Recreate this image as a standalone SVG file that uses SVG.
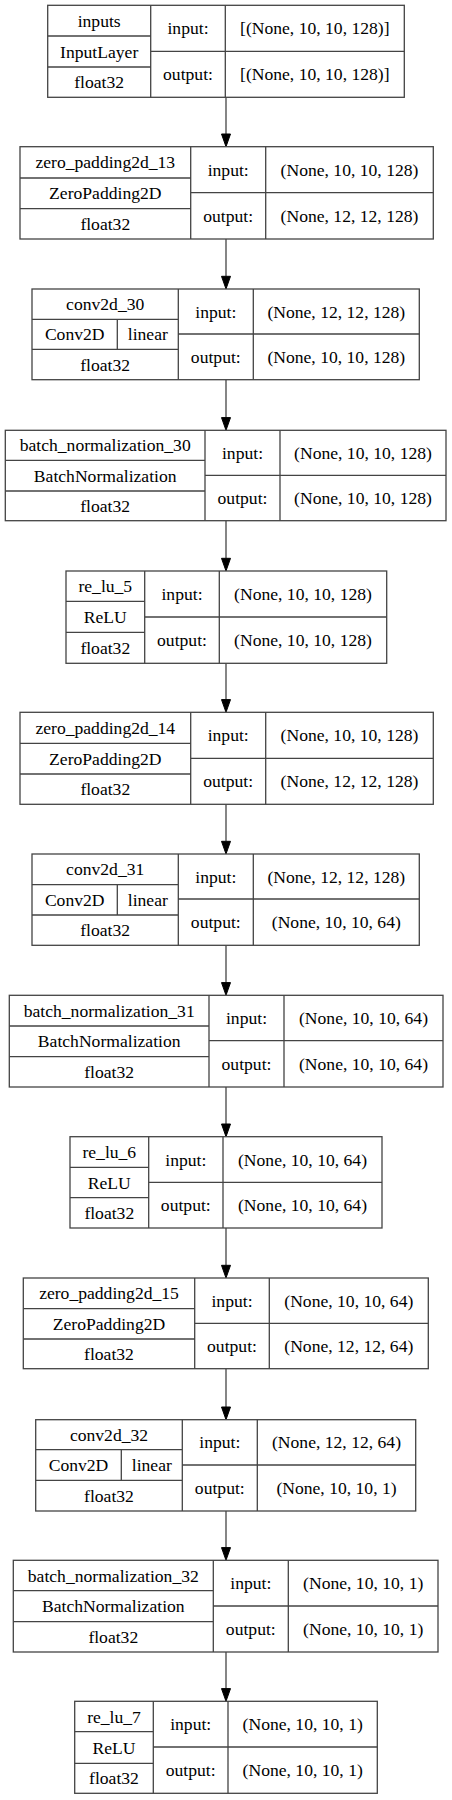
<svg xmlns="http://www.w3.org/2000/svg" width="452" height="1800" viewBox="0 0 452 1800" font-family="'Liberation Serif', 'Times New Roman', 'DejaVu Serif', serif">
<style>
.b{fill:#fff;stroke:#444;stroke-width:1.3}
.l{stroke:#444;stroke-width:1.3;fill:none}
text{font-family:'Liberation Serif','Times New Roman','DejaVu Serif',serif;font-size:17.6px;fill:#000;text-anchor:middle}
.e{stroke:#444;stroke-width:1.3;fill:none}
.h{fill:#000;stroke:#000;stroke-width:1}
</style>
<rect width="452" height="1800" fill="#fff"/>
<g id="connectors">
<line class="e" x1="226" y1="97.3" x2="226" y2="134"/><polygon class="h" points="221.5,134 230.5,134 226,146.7"/>
<line class="e" x1="226" y1="239" x2="226" y2="276.3"/><polygon class="h" points="221.5,276.3 230.5,276.3 226,289"/>
<line class="e" x1="226" y1="379.7" x2="226" y2="417.6"/><polygon class="h" points="221.5,417.6 230.5,417.6 226,430.3"/>
<line class="e" x1="226" y1="520.7" x2="226" y2="558.3"/><polygon class="h" points="221.5,558.3 230.5,558.3 226,571"/>
<line class="e" x1="226" y1="663.3" x2="226" y2="699.6"/><polygon class="h" points="221.5,699.6 230.5,699.6 226,712.3"/>
<line class="e" x1="226" y1="804.3" x2="226" y2="841.3"/><polygon class="h" points="221.5,841.3 230.5,841.3 226,854"/>
<line class="e" x1="226" y1="945.3" x2="226" y2="982.6"/><polygon class="h" points="221.5,982.6 230.5,982.6 226,995.3"/>
<line class="e" x1="226" y1="1087" x2="226" y2="1124"/><polygon class="h" points="221.5,1124 230.5,1124 226,1136.7"/>
<line class="e" x1="226" y1="1228" x2="226" y2="1265.3"/><polygon class="h" points="221.5,1265.3 230.5,1265.3 226,1278"/>
<line class="e" x1="226" y1="1368.7" x2="226" y2="1407"/><polygon class="h" points="221.5,1407 230.5,1407 226,1419.7"/>
<line class="e" x1="226" y1="1511" x2="226" y2="1547.6"/><polygon class="h" points="221.5,1547.6 230.5,1547.6 226,1560.3"/>
<line class="e" x1="226" y1="1652" x2="226" y2="1688.6"/><polygon class="h" points="221.5,1688.6 230.5,1688.6 226,1701.3"/>
</g>

<g id="inputs">
<rect class="b" x="47.7" y="5.3" width="356.6" height="92"/>
<path class="l" d="M150.7 5.3V97.3M225.3 5.3V97.3M47.7 36H150.7M47.7 67H150.7M150.7 51.3H404.3"/>
<text x="99.2" y="26.7">inputs</text>
<text x="99.2" y="57.5">InputLayer</text>
<text x="99.2" y="88.2">float32</text>
<text x="188" y="34.3">input:</text>
<text x="188" y="80.3">output:</text>
<text x="314.8" y="34.3">[(None, 10, 10, 128)]</text>
<text x="314.8" y="80.3">[(None, 10, 10, 128)]</text>
</g>

<g id="zero_padding2d_13">
<rect class="b" x="20" y="146.7" width="413.3" height="92.3"/>
<path class="l" d="M190.7 146.7V239M265.7 146.7V239M20 178H190.7M20 208.7H190.7M190.7 192.7H433.3"/>
<text x="105.3" y="168.3">zero_padding2d_13</text>
<text x="105.3" y="199.3">ZeroPadding2D</text>
<text x="105.3" y="229.8">float32</text>
<text x="228.2" y="175.7">input:</text>
<text x="228.2" y="221.8">output:</text>
<text x="349.5" y="175.7">(None, 10, 10, 128)</text>
<text x="349.5" y="221.8">(None, 12, 12, 128)</text>
</g>

<g id="conv2d_30">
<rect class="b" x="32" y="289" width="387.3" height="90.7"/>
<path class="l" d="M178.3 289V379.7M253.3 289V379.7M32 319.3H178.3M32 349.3H178.3M117.3 319.3V349.3M178.3 334H419.3"/>
<text x="105.2" y="310.2">conv2d_30</text>
<text x="74.7" y="340.3">Conv2D</text>
<text x="147.8" y="340.3">linear</text>
<text x="105.2" y="370.5">float32</text>
<text x="215.8" y="317.5">input:</text>
<text x="215.8" y="362.8">output:</text>
<text x="336.3" y="317.5">(None, 12, 12, 128)</text>
<text x="336.3" y="362.8">(None, 10, 10, 128)</text>
</g>

<g id="batch_normalization_30">
<rect class="b" x="5.3" y="430.3" width="440.7" height="90.4"/>
<path class="l" d="M205 430.3V520.7M280 430.3V520.7M5.3 460.3H205M5.3 491H205M205 475.3H446"/>
<text x="105.2" y="451.3">batch_normalization_30</text>
<text x="105.2" y="481.7">BatchNormalization</text>
<text x="105.2" y="511.8">float32</text>
<text x="242.5" y="458.8">input:</text>
<text x="242.5" y="504">output:</text>
<text x="363" y="458.8">(None, 10, 10, 128)</text>
<text x="363" y="504">(None, 10, 10, 128)</text>
</g>

<g id="re_lu_5">
<rect class="b" x="66" y="571" width="320.7" height="92.3"/>
<path class="l" d="M144.7 571V663.3M219.3 571V663.3M66 601.3H144.7M66 632.3H144.7M144.7 617H386.7"/>
<text x="105.3" y="592.2">re_lu_5</text>
<text x="105.3" y="622.8">ReLU</text>
<text x="105.3" y="653.8">float32</text>
<text x="182" y="600">input:</text>
<text x="182" y="646.2">output:</text>
<text x="303" y="600">(None, 10, 10, 128)</text>
<text x="303" y="646.2">(None, 10, 10, 128)</text>
</g>

<g id="zero_padding2d_14">
<rect class="b" x="20" y="712.3" width="413.3" height="92"/>
<path class="l" d="M190.7 712.3V804.3M265.7 712.3V804.3M20 743.3H190.7M20 774H190.7M190.7 758.3H433.3"/>
<text x="105.3" y="733.8">zero_padding2d_14</text>
<text x="105.3" y="764.7">ZeroPadding2D</text>
<text x="105.3" y="795.2">float32</text>
<text x="228.2" y="741.3">input:</text>
<text x="228.2" y="787.3">output:</text>
<text x="349.5" y="741.3">(None, 10, 10, 128)</text>
<text x="349.5" y="787.3">(None, 12, 12, 128)</text>
</g>

<g id="conv2d_31">
<rect class="b" x="32" y="854" width="387.3" height="91.3"/>
<path class="l" d="M178.3 854V945.3M253.3 854V945.3M32 884.7H178.3M32 915H178.3M117.3 884.7V915M178.3 899H419.3"/>
<text x="105.2" y="875.3">conv2d_31</text>
<text x="74.7" y="905.8">Conv2D</text>
<text x="147.8" y="905.8">linear</text>
<text x="105.2" y="936.2">float32</text>
<text x="215.8" y="882.5">input:</text>
<text x="215.8" y="928.2">output:</text>
<text x="336.3" y="882.5">(None, 12, 12, 128)</text>
<text x="336.3" y="928.2">(None, 10, 10, 64)</text>
</g>

<g id="batch_normalization_31">
<rect class="b" x="9.3" y="995.3" width="433.7" height="91.7"/>
<path class="l" d="M209 995.3V1087M284 995.3V1087M9.3 1026H209M9.3 1056.7H209M209 1040.7H443"/>
<text x="109.2" y="1016.7">batch_normalization_31</text>
<text x="109.2" y="1047.3">BatchNormalization</text>
<text x="109.2" y="1077.8">float32</text>
<text x="246.5" y="1024">input:</text>
<text x="246.5" y="1069.8">output:</text>
<text x="363.5" y="1024">(None, 10, 10, 64)</text>
<text x="363.5" y="1069.8">(None, 10, 10, 64)</text>
</g>

<g id="re_lu_6">
<rect class="b" x="70" y="1136.7" width="312" height="91.3"/>
<path class="l" d="M148.7 1136.7V1228M223 1136.7V1228M70 1167.3H148.7M70 1197.7H148.7M148.7 1182.3H382"/>
<text x="109.3" y="1158">re_lu_6</text>
<text x="109.3" y="1188.5">ReLU</text>
<text x="109.3" y="1218.8">float32</text>
<text x="185.8" y="1165.5">input:</text>
<text x="185.8" y="1211.2">output:</text>
<text x="302.5" y="1165.5">(None, 10, 10, 64)</text>
<text x="302.5" y="1211.2">(None, 10, 10, 64)</text>
</g>

<g id="zero_padding2d_15">
<rect class="b" x="23.3" y="1278" width="405" height="90.7"/>
<path class="l" d="M194.7 1278V1368.7M269.3 1278V1368.7M23.3 1308.7H194.7M23.3 1339H194.7M194.7 1323.3H428.3"/>
<text x="109" y="1299.3">zero_padding2d_15</text>
<text x="109" y="1329.8">ZeroPadding2D</text>
<text x="109" y="1359.8">float32</text>
<text x="232" y="1306.7">input:</text>
<text x="232" y="1352">output:</text>
<text x="348.8" y="1306.7">(None, 10, 10, 64)</text>
<text x="348.8" y="1352">(None, 12, 12, 64)</text>
</g>

<g id="conv2d_32">
<rect class="b" x="35.7" y="1419.7" width="380" height="91.3"/>
<path class="l" d="M182.3 1419.7V1511M257.3 1419.7V1511M35.7 1449.7H182.3M35.7 1480.3H182.3M121.3 1449.7V1480.3M182.3 1465H415.7"/>
<text x="109" y="1440.7">conv2d_32</text>
<text x="78.5" y="1471">Conv2D</text>
<text x="151.8" y="1471">linear</text>
<text x="109" y="1501.7">float32</text>
<text x="219.8" y="1448.3">input:</text>
<text x="219.8" y="1494">output:</text>
<text x="336.5" y="1448.3">(None, 12, 12, 64)</text>
<text x="336.5" y="1494">(None, 10, 10, 1)</text>
</g>

<g id="batch_normalization_32">
<rect class="b" x="13.3" y="1560.3" width="424.7" height="91.7"/>
<path class="l" d="M213.3 1560.3V1652M288.3 1560.3V1652M13.3 1590.7H213.3M13.3 1621.7H213.3M213.3 1606H438"/>
<text x="113.3" y="1581.5">batch_normalization_32</text>
<text x="113.3" y="1612.2">BatchNormalization</text>
<text x="113.3" y="1642.8">float32</text>
<text x="250.8" y="1589.2">input:</text>
<text x="250.8" y="1635">output:</text>
<text x="363.2" y="1589.2">(None, 10, 10, 1)</text>
<text x="363.2" y="1635">(None, 10, 10, 1)</text>
</g>

<g id="re_lu_7">
<rect class="b" x="74.7" y="1701.3" width="302.6" height="92"/>
<path class="l" d="M153.3 1701.3V1793.3M228 1701.3V1793.3M74.7 1731.7H153.3M74.7 1763.3H153.3M153.3 1747H377.3"/>
<text x="114" y="1722.5">re_lu_7</text>
<text x="114" y="1753.5">ReLU</text>
<text x="114" y="1784.3">float32</text>
<text x="190.7" y="1730.2">input:</text>
<text x="190.7" y="1776.2">output:</text>
<text x="302.7" y="1730.2">(None, 10, 10, 1)</text>
<text x="302.7" y="1776.2">(None, 10, 10, 1)</text>
</g>
</svg>
